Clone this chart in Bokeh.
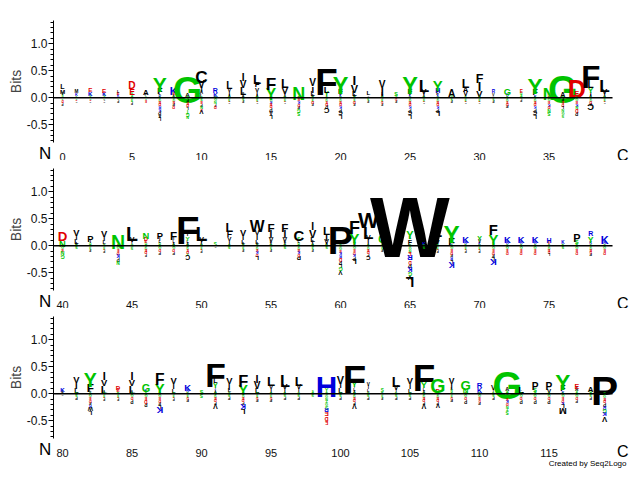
import numpy as np
from bokeh.plotting import figure
from bokeh.layouts import column
from bokeh.models import ColumnDataSource, FixedTicker, Range1d, NumeralTickFormatter
from bokeh.core.properties import value
from bokeh.embed import file_html
from bokeh.resources import INLINE

# ---- data: stacks per position, "letter + height in 1/100 bits" ----
# positive stacks listed from zero upward; negative stacks from zero downward
row1_up = ["A3 S4 V5 M8 L9", "G3 S3 K5 M6", "A3 S4 K8 E8", "G3 S4 K7 E8", "S3 K4 E5 L5",
           "G3 S4 N4 E11 D13", "S3 G3 P4 A10", "S3 K5 L5 F11 Y27", "S3 A4 E5 K14", "S3 N3 A8 G48",
           "S3 L6 A6 I10 V13 C22", "S3 V3 K8 R9", "S3 A4 I8 V7 L13", "S4 A4 F4 L13 V13 I13", "S4 A4 I8 V8 F10 L17",
           "S3 L3 Y20 F22", "S3 A4 I6 V12 L16", "S3 D3 N23", "S3 A4 L9 I12 V13", "S3 I4 Y9 L12 F47",
           "S3 K4 L4 F10 Y30", "S3 A4 L10 V14 I17", "S3 A3 V3 L8", "S3 A4 L4 I14 V13", "A3 G4 S7",
           "S3 K4 L4 F10 Y30", "S3 A4 I5 V10 L22", "S3 K4 F6 H9 Y19", "S3 G4 A13", "S3 I4 V9 A9 L16",
           "S3 L4 V12 I16 F16", "S3 A3 V5 R6", "A3 S3 K5 G12", "A3 S4 G4 E6", "S3 K5 L3 F11 Y29",
           "S3 D4 N22", "S3 N3 A9 G49", "S3 N4 E9 D32", "S3 A4 I7 Y10 L13 F40", "S3 A4 I5 V10 L22"]
row1_down = ["G3 S3 D4 E3 P4", "G3 S3 D3 P3", "G3 N3 D3 P3", "S3 G3 L3 P3", "G3 S3 P4",
             "G4 S4 N3 P4", "G3 S3 E4", "S4 G4 E5 D5 R5 K5 P6 A5 L6", "S4 G4 E5 P5 D5", "S5 P5 E5 D5 L5 T6 G6 N5",
             "G4 S5 E5 P5 N5 D4 V8", "S4 G5 N5 P4 D5", "G4 S4 D3 P3", "G3 S4 P4", "G4 S4 E3 P3",
             "S4 G4 R4 E5 D5 P6 A7 L7", "G4 S4 D3 P3", "S4 E5 K5 D5 P5 G6 S6", "G4 S4 D5 P4", "S4 G4 E4 D5 P6 C10",
             "S4 G4 E5 D5 K5 P6 C8 L8", "G4 S4 D5 P4", "G3 S4 P4", "G4 S4 D4 P4", "G3 D4 P4",
             "S4 G4 E5 D5 K5 P6 C8 L8", "G4 S4 D3 P3", "S4 G4 E5 D5 K5 P6 L10", "G3 S4 P4", "G4 S4 D3 P3",
             "G4 S4 D3 P3", "G3 S4 P4", "S4 G4 E4 D5 P5", "G4 P4", "S4 G4 E5 D5 K5 P6 C8 L8",
             "S4 G5 E5 K5 D5 N6 S6", "S4 P5 E5 D5 L5 N5 G5 S5", "S4 G5 E5 K5 N5 D6 P6", "S4 G4 D5 P5 C12", "G4 S4 D3 P3"]
row2_up = ["S2 G3 N12 D17", "S3 A4 L9 I9 V12", "S3 G4 I6 P12", "S3 A3 L7 I9 V12", "S3 D3 N25",
           "S3 A3 I6 V9 L25", "S3 G4 E5 D7 N12", "S3 G4 L5 I7 P12", "S4 A4 L5 I6 F15", "S4 A4 L5 Y8 I7 F49",
           "S3 A4 I5 V9 L25", "A3 S6", "S3 A3 I8 V8 F11 L16", "S3 A4 L8 I10 V12", "S3 A4 L8 I10 V10 W20",
           "S3 A4 L5 V9 I13 F15", "S3 A4 L5 V9 I13 F15", "A3 G4 L5 S6 C19", "S4 A4 F4 L10 V14 I13", "S3 A4 V9 I12 L15",
           "S3 A3 L3 P49", "S3 A4 L6 Y19 F23", "S3 A3 I9 V9 L22 W28", "S3 A3 V6 G13", "A3 G7",
           "S3 A3 F9 L5 Y14 W108", "A3 K6", "S3 A3 V7 I12 L18", "S3 K3 F14 Y31", "S3 A3 R5 K12",
           "S3 K4 V6 Y9", "S3 A3 K4 Y19 F19", "S3 A3 R5 K12", "S3 A3 R5 K12", "S3 A3 R5 K12",
           "S3 A3 E4 H9", "A3 S3 K6", "A3 G4 S7 P14", "S3 A3 K5 Y11 R9", "S3 A3 R5 K14"]
row2_down = ["S4 G5 E5 N7 G7", "G4 S5", "G4 S4 P4", "G4 S4 D3 P4", "S4 G5 E5 D5 K6 P6 N6",
             "G5 S5", "S4 G4 E5 D5 P4", "S4 G5 D5 P5", "S4 G5 D5 P5", "S4 G4 E4 D5 Y5 C9",
             "G4 S4 D3 P4", "G3 P3", "G4 S5", "G4 S4 P4", "S4 G4 E5 K5 D5 L8",
             "G4 S4 P4", "G4 S5", "S4 G4 E5 K5 D5 P8", "G4 S4 P4", "G4 S5",
             "S5 G5 E5 K5 R5 D6 P6 L7 G7 V8", "S4 G5 E5 D5 K5 P6 L10", "S4 G4 E5 D5 P5 C8", "G4 S4 P4", "G3 P3",
             "S5 G5 N5 E6 R10 D6 P7 K9 G7 V8 L18", "G4 S5", "G4 S4 D3 P4", "S4 G5 E5 D5 P5 R5 L6 K11", "G4 S4 D3 P4",
             "G4 S4 D3 P4", "S4 G5 E5 D5 P5 L7 K12", "S4 G5 E5 D5", "S4 G5 E5 D5", "S4 G5 E5 D5",
             "S4 G4 E5 D4 L5", "G4 S5", "S4 G5 E5 D5", "S4 G4 E5 D4 P5", "S4 G5 E5 D5"]
row3_up = ["S3 A4 K8", "S3 A3 L9 I12 V12", "S3 A3 L5 F15 Y25", "S3 A4 L14 V12 I14", "S3 G3 E6 D8",
           "S3 A4 L14 V12 I14", "S3 A3 K5 G14", "S3 A3 K2 Y19 F20", "S3 A3 L8 I10 V12", "S3 A3 R5 K12",
           "A3 S7", "S4 A4 K3 I4 Y9 L9 F43", "S3 A3 L7 I11 V12", "S3 K3 Y18 F21", "S3 A3 L9 V13 I14",
           "S3 A3 I8 V8 L17", "S3 A3 I8 V10 L21", "S3 A3 I7 V9 L17", "A3 S4", "S3 A3 Y7 H38",
           "S3 A3 L9 I10 V14", "S4 A4 L5 I4 Y10 F49", "S3 A3 L5 I6 V6", "A3 K3 S6", "S3 A3 I6 V9 L18",
           "S3 A3 L8 I10 V12", "S4 A4 L5 I4 Y12 F47", "S3 E3 D8 G25", "S3 A3 N4 L4 I10 V11", "S3 E3 N10 G17",
           "S3 A3 K9 R10", "S3 A3 I5 V9", "S4 N4 A7 G49", "S3 A3 V2 L12", "A3 G4 S7 P13",
           "S3 A3 V8 P13", "S3 K5 L3 F11 Y29", "G3 S4 A6 E9", "S3 G4 A10", "S2 A3 P52"]
row3_down = ["G3 P3", "G4 S5 P5", "S4 G5 E5 D5 P5 R5 W7 L8", "G4 S4 D3 P4", "G4 S4 D3 P4",
             "S4 G5 D5 P6", "S4 G5 E5 D6 P6", "S4 G5 E5 D5 P5 L7 K12", "G4 S4 D3 P4", "G4 S4 D4 P5",
             "G4 S6", "S4 G4 E5 D5 P5 V9", "G4 S5 P5", "S4 G4 E5 D5 P5 K10 L10", "G4 S4 D4 P5",
             "G4 S4 D4 P5", "G4 S5 P5", "G4 S5 P5", "G4 S5", "S5 G5 N5 T5 G5 S6 R8 E8 D7 E6",
             "G4 S5 P5", "S4 G4 E5 D5 P5 V9", "G4 S5 P5", "G4 S4 P4", "G4 S5 P5",
             "G4 S5 P5", "S4 G4 E5 D5 P5 V9", "S4 G4 E5 D5 P5 V8", "G4 S4 D4 P5", "S4 G5 D5 P6",
             "S4 G5 E5 D4 P5", "G4 S5 P5", "S5 G5 E5 K5 D5 N5 T5 S6", "S4 G5 D5 P6", "S4 G5 D5 P6",
             "S4 G5 D5 P6", "S4 G5 E5 D5 K5 L8 M12", "S4 G5 D5 P5", "G4 S5 P5", "S5 G5 E5 D5 P6 R6 G7 K8 V10"]

rows_up = [row1_up, row2_up, row3_up]
rows_down = [row1_down, row2_down, row3_down]
x_tick_labels = [[0, 5, 10, 15, 20, 25, 30, 35], [40, 45, 50, 55, 60, 65, 70, 75], [80, 85, 90, 95, 100, 105, 110, 115]]

COLORS = {}
for ch in "ACFILMPVW":
    COLORS[ch] = "#000000"
for ch in "GNQSTY":
    COLORS[ch] = "#00C400"
for ch in "HKR":
    COLORS[ch] = "#0000DC"
for ch in "DE":
    COLORS[ch] = "#E00000"

Y_MIN, Y_MAX = -0.83, 1.43          # extent of the bits axis
PPB = 54.0                           # pixels per bit
PPX = 13.9                           # pixels per position
X0_PX = 62.0                         # pixel of the first position in a row
CAP = 0.69
FONT = "Liberation Sans"
LOGO_FONT = "Liberation Sans Narrow, Liberation Sans"


def build_source(up, down, start):
    xs, ys, ts, fs, cs, an = [], [], [], [], [], []
    for i, (su, sd) in enumerate(zip(up, down)):
        x = start + i
        base = 0.0
        for tok in su.split():
            h = int(tok[1:]) / 100.0
            xs.append(x); ys.append(base); ts.append(tok[0])
            fs.append("%.2fpx" % (h * PPB / CAP)); cs.append(COLORS[tok[0]]); an.append(0.0)
            base += h
        base = 0.0
        for tok in sd.split():
            h = int(tok[1:]) / 100.0
            xs.append(x); ys.append(base); ts.append(tok[0])
            fs.append("%.2fpx" % (h * PPB / CAP)); cs.append(COLORS[tok[0]]); an.append(np.pi)
            base -= h
    return ColumnDataSource(dict(x=xs, y=ys, t=ts, fs=fs, c=cs, a=an))


def make_row(r, height, top):
    start = 40 * r
    x_lo = start - X0_PX / PPX
    x_hi = x_lo + 640 / PPX
    y_hi = Y_MAX + top / PPB
    y_lo = y_hi - height / PPB
    left_edge = start - 9 / PPX          # where the bits axis sits
    right_edge = start + 39.57
    p = figure(width=640, height=height, output_backend="svg", toolbar_location=None,
               x_range=Range1d(x_lo, x_hi), y_range=Range1d(y_lo, y_hi),
               min_border=0, min_border_left=0, min_border_right=0, min_border_top=0, min_border_bottom=0)
    p.grid.visible = False
    p.outline_line_color = None
    p.background_fill_color = "white"
    p.border_fill_color = "white"

    src = build_source(rows_up[r], rows_down[r], start)
    p.text(x="x", y="y", text="t", source=src, text_font_size="fs", text_color="c", angle="a",
           text_align="center", text_baseline="alphabetic", text_font=value(LOGO_FONT), text_font_style="bold")

    # zero baseline across the logo
    p.segment(x0=[left_edge], x1=[right_edge], y0=[0.0], y1=[0.0], line_color="black", line_width=1.5)

    ya = p.yaxis[0]
    ya.fixed_location = left_edge
    ya.bounds = (Y_MIN, Y_MAX)
    ya.ticker = FixedTicker(ticks=[-0.5, 0.0, 0.5, 1.0],
                            minor_ticks=[round(v, 1) for v in np.arange(-0.8, 1.45, 0.1)])
    ya.formatter = NumeralTickFormatter(format="0.0")
    ya.axis_label = "Bits"
    ya.axis_label_text_font = FONT
    ya.axis_label_text_font_style = "normal"
    ya.axis_label_text_font_size = "14px"
    ya.axis_label_standoff = 0
    ya.major_label_text_font = FONT
    ya.major_label_text_font_size = "12px"
    ya.major_label_text_color = "#111111"
    ya.major_label_standoff = 1
    ya.major_tick_out = 5
    ya.major_tick_in = 0
    ya.minor_tick_out = 3
    ya.minor_tick_in = 0
    ya.axis_line_color = "black"

    xa = p.xaxis[0]
    xa.fixed_location = Y_MIN
    xa.ticker = FixedTicker(ticks=x_tick_labels[r])
    xa.axis_line_color = None
    xa.major_tick_line_color = None
    xa.minor_tick_line_color = None
    xa.major_label_text_font = FONT
    xa.major_label_text_font_size = "11px"
    xa.major_label_text_color = "#111111"
    xa.major_label_standoff = 4

    # terminus markers
    p.text(x=[start - 1.25], y=[Y_MIN - 11 / PPB], text=["N"], text_font=value(FONT), text_font_size="17px",
           text_align="center", text_baseline="middle", text_color="black")
    p.text(x=[start + 40.3], y=[Y_MIN - 13 / PPB], text=["C"], text_font=value(FONT), text_font_size="16px",
           text_align="center", text_baseline="middle", text_color="black")
    return p


p1 = make_row(0, 160, 20)
p2 = make_row(1, 148, 8)
p3 = make_row(2, 172, 8)
p3.text(x=[80 + (626 - X0_PX) / PPX], y=[Y_MIN - 25 / PPB], text=["Created by Seq2Logo"], text_font=value(FONT),
        text_font_size="8px", text_align="right", text_baseline="middle", text_color="black")

layout = column(p1, p2, p3, spacing=0)
open("out.html", "w").write(file_html(layout, INLINE))
